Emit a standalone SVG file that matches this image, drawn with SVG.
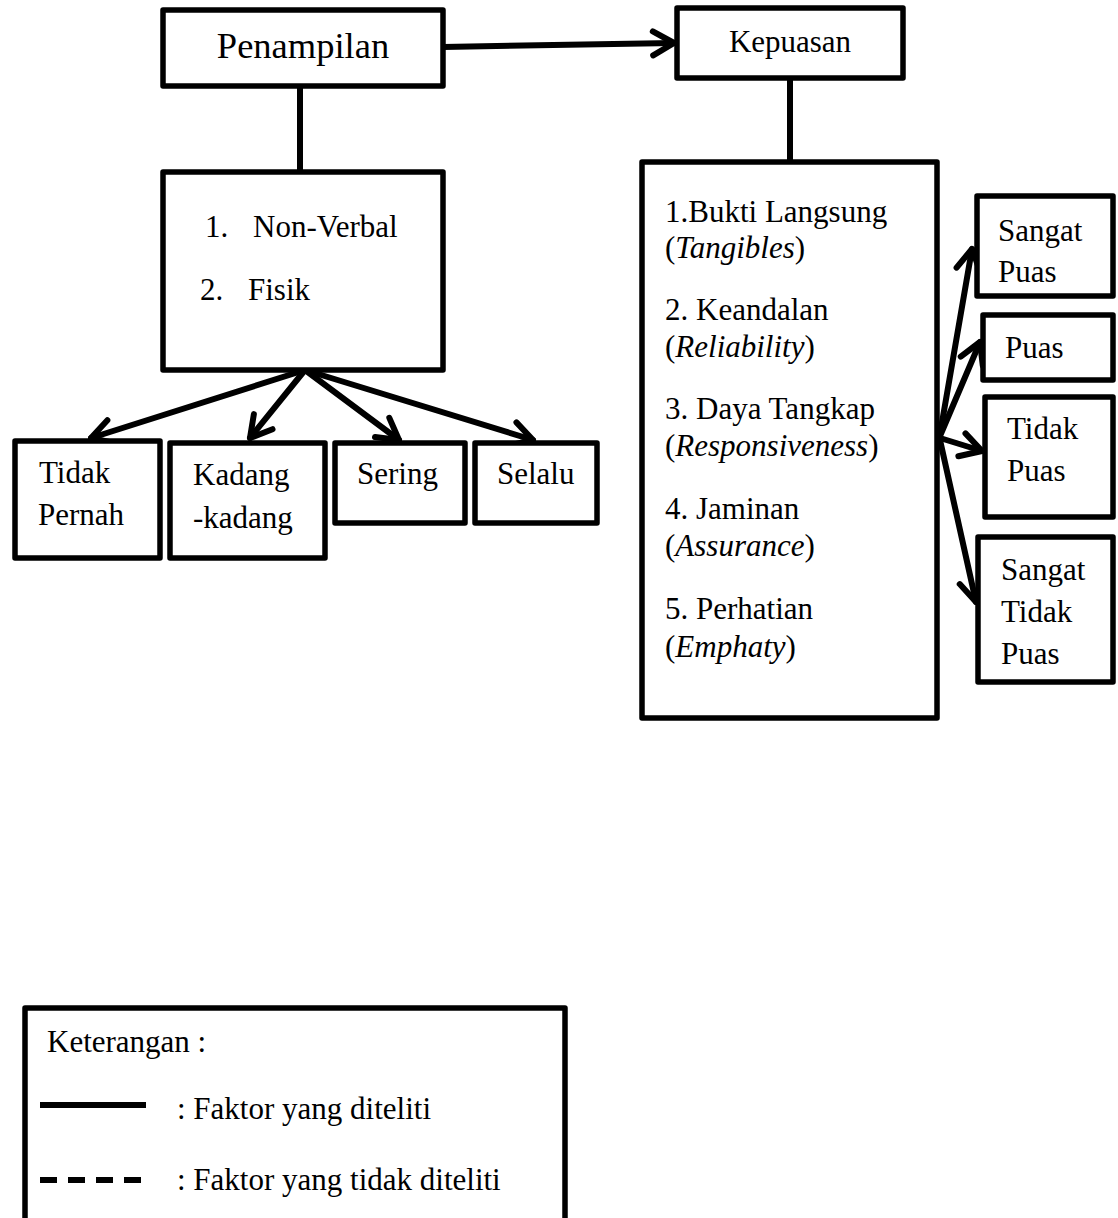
<svg xmlns="http://www.w3.org/2000/svg" width="1118" height="1218" viewBox="0 0 1118 1218">
<style>
.box{fill:#fff;stroke:#000;stroke-width:5.5;stroke-linejoin:round}
.ln{fill:none;stroke:#000;stroke-width:6;stroke-linecap:round}
text{font-family:"Liberation Serif","Times New Roman",serif;fill:#000}
.t{font-size:31px}
.it{font-style:italic}
</style>
<defs>
<marker id="arr" markerUnits="userSpaceOnUse" viewBox="-26 -16 30 32" refX="0" refY="0" markerWidth="30" markerHeight="32" orient="auto" overflow="visible">
<path d="M-21,-12 L0,0 L-21,12" fill="none" stroke="#000" stroke-width="6" stroke-linecap="round" stroke-linejoin="round"/>
</marker>
</defs>
<g id="connectors">
<line class="ln" x1="443" y1="47" x2="674" y2="43" marker-end="url(#arr)"/>
<line class="ln" x1="300" y1="86" x2="300" y2="172"/>
<line class="ln" x1="790" y1="78" x2="790" y2="162"/>
<line class="ln" x1="305" y1="370" x2="91" y2="438" marker-end="url(#arr)"/>
<line class="ln" x1="305" y1="370" x2="250" y2="438" marker-end="url(#arr)"/>
<line class="ln" x1="305" y1="370" x2="399" y2="440" marker-end="url(#arr)"/>
<line class="ln" x1="305" y1="370" x2="533" y2="440" marker-end="url(#arr)"/>
<line class="ln" x1="940" y1="434" x2="972" y2="249" marker-end="url(#arr)"/>
<line class="ln" x1="940" y1="436" x2="980" y2="342" marker-end="url(#arr)"/>
<line class="ln" x1="940" y1="438" x2="982" y2="451" marker-end="url(#arr)"/>
<line class="ln" x1="940" y1="440" x2="976" y2="602" marker-end="url(#arr)"/>
</g>
<g id="penampilan">
<rect class="box" x="163" y="10" width="280" height="76"/>
<text x="303" y="58" font-size="36.5" text-anchor="middle">Penampilan</text>
</g>
<g id="kepuasan">
<rect class="box" x="677" y="8" width="226" height="70"/>
<text class="t" x="790" y="52" text-anchor="middle">Kepuasan</text>
</g>
<g id="indikator-penampilan">
<rect class="box" x="163" y="172" width="280" height="198"/>
<text class="t" x="205" y="237">1.</text>
<text class="t" x="253" y="237">Non-Verbal</text>
<text class="t" x="200" y="300">2.</text>
<text class="t" x="248" y="300">Fisik</text>
</g>
<g id="tidak-pernah">
<rect class="box" x="15" y="441" width="145" height="117"/>
<text class="t" x="39" y="483">Tidak</text>
<text class="t" x="38" y="525">Pernah</text>
</g>
<g id="kadang">
<rect class="box" x="170" y="443" width="155" height="115"/>
<text class="t" x="193" y="485">Kadang</text>
<text class="t" x="193" y="528">-kadang</text>
</g>
<g id="sering">
<rect class="box" x="335" y="443" width="130" height="80"/>
<text class="t" x="357" y="484">Sering</text>
</g>
<g id="selalu">
<rect class="box" x="475" y="443" width="122" height="80"/>
<text class="t" x="497" y="484">Selalu</text>
</g>
<g id="dimensi">
<rect class="box" x="642" y="162" width="295" height="556"/>
<text class="t" x="665" y="222">1.Bukti Langsung</text>
<text class="t" x="665" y="258">(<tspan class="it">Tangibles</tspan>)</text>
<text class="t" x="665" y="320">2. Keandalan</text>
<text class="t" x="665" y="357">(<tspan class="it">Reliability</tspan>)</text>
<text class="t" x="665" y="419">3. Daya Tangkap</text>
<text class="t" x="665" y="456">(<tspan class="it">Responsiveness</tspan>)</text>
<text class="t" x="665" y="519">4. Jaminan</text>
<text class="t" x="665" y="556">(<tspan class="it">Assurance</tspan>)</text>
<text class="t" x="665" y="619">5. Perhatian</text>
<text class="t" x="665" y="657">(<tspan class="it">Emphaty</tspan>)</text>
</g>
<g id="sangat-puas">
<rect class="box" x="977" y="196" width="136" height="100"/>
<text class="t" x="998" y="241">Sangat</text>
<text class="t" x="998" y="282">Puas</text>
</g>
<g id="puas">
<rect class="box" x="983" y="315" width="130" height="65"/>
<text class="t" x="1005" y="358">Puas</text>
</g>
<g id="tidak-puas">
<rect class="box" x="985" y="397" width="128" height="120"/>
<text class="t" x="1007" y="439">Tidak</text>
<text class="t" x="1007" y="481">Puas</text>
</g>
<g id="sangat-tidak-puas">
<rect class="box" x="978" y="537" width="135" height="145"/>
<text class="t" x="1001" y="580">Sangat</text>
<text class="t" x="1001" y="622">Tidak</text>
<text class="t" x="1001" y="664">Puas</text>
</g>
<g id="legend">
<rect class="box" x="25" y="1008" width="540" height="230"/>
<text class="t" x="47" y="1052">Keterangan :</text>
<line x1="40" y1="1105" x2="146" y2="1105" stroke="#000" stroke-width="6"/>
<text class="t" x="177" y="1119">: Faktor yang diteliti</text>
<line x1="40" y1="1180" x2="146" y2="1180" stroke="#000" stroke-width="6" stroke-dasharray="17,11"/>
<text class="t" x="177" y="1190">: Faktor yang tidak diteliti</text>
</g>
</svg>
